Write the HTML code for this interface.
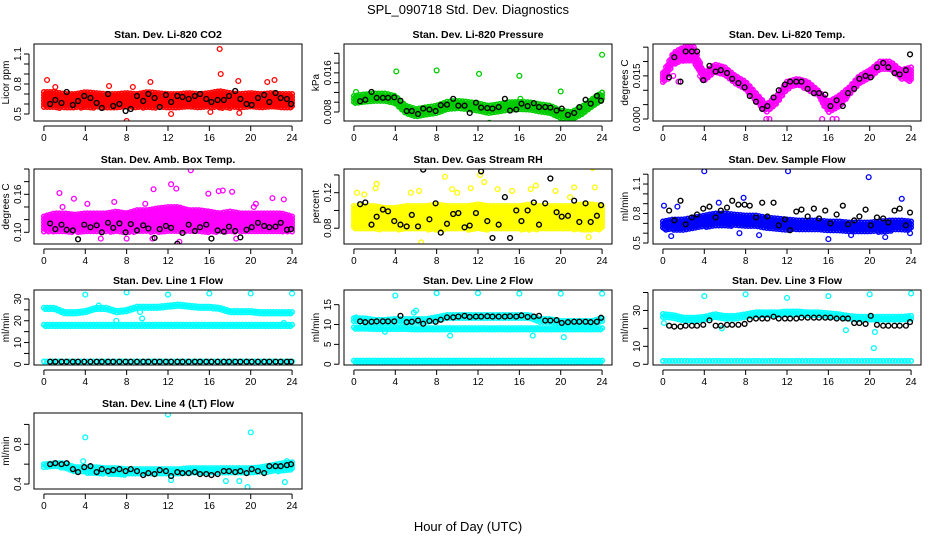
<!DOCTYPE html>
<html><head><meta charset="utf-8"><style>
body{margin:0;background:#fff;}
svg{display:block;font-family:"Liberation Sans",sans-serif;}
</style></head><body>
<svg id="c" width="936" height="540" viewBox="0 0 936 540">
<text x="468" y="14" text-anchor="middle" font-size="13">SPL_090718  Std. Dev. Diagnostics</text>
<text x="468" y="531" text-anchor="middle" font-size="13">Hour of Day (UTC)</text>
</svg>
<script>
// ---- data ----
const hours=[0,1,2,3,4,5,6,7,8,9,10,11,12,13,14,15,16,17,18,19,20,21,22,23,24];
const blackHours=[0.6,1.1,1.7,2.2,2.8,3.3,3.9,4.5,5.1,5.6,6.2,6.7,7.3,7.9,8.4,9.0,9.6,10.1,10.7,11.2,11.8,12.3,12.9,13.4,14.0,14.6,15.1,15.7,16.2,16.8,17.4,17.9,18.5,19.0,19.6,20.1,20.7,21.3,21.8,22.4,22.9,23.5,23.9];

const co2Lo=[0.56,0.56,0.56,0.56,0.56,0.56,0.56,0.56,0.56,0.56,0.56,0.56,0.56,0.56,0.56,0.56,0.56,0.56,0.56,0.56,0.56,0.56,0.56,0.56,0.56];
const co2Hi=[0.72,0.72,0.7,0.7,0.72,0.71,0.7,0.7,0.71,0.7,0.72,0.71,0.7,0.7,0.71,0.7,0.71,0.73,0.71,0.7,0.71,0.7,0.71,0.7,0.7];
const co2OutT=[0.3,1.1,17,17.1,10.3,18.8,22.3,21.6,8,12.3,16.1,18.9,6.3,8.6];
const co2OutV=[0.84,0.77,1.15,0.9,0.82,0.83,0.84,0.82,0.43,0.5,0.52,0.51,0.78,0.77];
const co2Blk=[0.6,0.64,0.61,0.72,0.59,0.63,0.68,0.66,0.61,0.56,0.7,0.58,0.6,0.53,0.55,0.68,0.63,0.7,0.66,0.57,0.69,0.62,0.68,0.67,0.65,0.68,0.7,0.65,0.62,0.64,0.64,0.68,0.73,0.65,0.6,0.59,0.66,0.69,0.62,0.71,0.66,0.65,0.6];

const presLo=[0.0097,0.01,0.0102,0.0102,0.0097,0.0077,0.007,0.0074,0.0077,0.0085,0.0087,0.0085,0.0082,0.0077,0.008,0.0084,0.0085,0.0084,0.008,0.0077,0.0067,0.0064,0.0074,0.009,0.0104];
const presHi=[0.0113,0.0116,0.0118,0.0118,0.0113,0.0093,0.0086,0.009,0.0093,0.0101,0.0103,0.0101,0.0098,0.0093,0.0096,0.01,0.0101,0.01,0.0096,0.0093,0.0083,0.008,0.009,0.0106,0.012];
const presOutT=[0.2,4.1,8,12.1,16,20,24,16.1,13.1,21.2];
const presOutV=[0.0121,0.0163,0.0165,0.0158,0.0154,0.0122,0.0197,0.0107,0.0058,0.006];
const presBlk=[0.0102,0.0105,0.0121,0.0109,0.0109,0.0109,0.011,0.0103,0.0082,0.0082,0.0076,0.0087,0.0085,0.0082,0.0094,0.0095,0.0107,0.0093,0.0093,0.0078,0.0099,0.0089,0.0088,0.0087,0.009,0.0107,0.0083,0.0085,0.0097,0.0092,0.0098,0.009,0.009,0.0089,0.0083,0.0087,0.0074,0.0078,0.009,0.0105,0.0097,0.0113,0.0103];

const tempLo=[0.012,0.019,0.020,0.020,0.013,0.016,0.015,0.012,0.010,0.006,0.002,0.005,0.010,0.012,0.010,0.008,0.002,0.004,0.008,0.012,0.014,0.017,0.017,0.014,0.013];
const tempHi=[0.016,0.023,0.025,0.025,0.016,0.019,0.018,0.015,0.013,0.009,0.005,0.008,0.013,0.014,0.013,0.010,0.006,0.008,0.011,0.015,0.017,0.020,0.020,0.017,0.018];
const tempOutT=[10,10.3,15.4,16.4,16.8,0.5,1.0,1.5,3.6,3.8];
const tempOutV=[0,0,0,0,0,0.014,0.015,0.013,0.015,0.014];
const tempBlk=[0.0145,0.0215,0.013,0.0235,0.0235,0.0235,0.0135,0.0185,0.0165,0.017,0.016,0.014,0.0125,0.011,0.008,0.006,0.0035,0.0045,0.0075,0.01,0.012,0.013,0.013,0.013,0.0105,0.009,0.009,0.0085,0.0045,0.0065,0.0045,0.009,0.0105,0.014,0.015,0.0145,0.018,0.0195,0.018,0.016,0.0155,0.017,0.0225];

const ambLo=[0.1,0.1,0.1,0.1,0.1,0.1,0.1,0.1,0.1,0.1,0.1,0.1,0.1,0.1,0.1,0.1,0.1,0.1,0.1,0.1,0.1,0.1,0.1,0.1,0.1];
const ambHi=[0.125,0.13,0.13,0.128,0.13,0.13,0.13,0.133,0.13,0.135,0.135,0.138,0.14,0.14,0.135,0.135,0.133,0.13,0.133,0.13,0.13,0.13,0.13,0.13,0.125];
const ambOutT=[1.5,2.9,4.2,10.6,12.3,12.8,14.2,15.9,16.9,17.3,18.2,22.1,23.2,13.1,5.5,18.6,8,10.5,20.5,6.8,1.8,9.8,20.3];
const ambOutV=[0.162,0.153,0.145,0.168,0.176,0.169,0.198,0.161,0.165,0.166,0.164,0.154,0.152,0.085,0.09,0.09,0.09,0.09,0.145,0.148,0.14,0.145,0.14];
const ambBlk=[0.114,0.105,0.112,0.104,0.103,0.089,0.112,0.108,0.111,0.1,0.115,0.107,0.114,0.1,0.113,0.103,0.111,0.106,0.091,0.105,0.11,0.107,0.082,0.099,0.112,0.102,0.108,0.112,0.09,0.103,0.101,0.109,0.102,0.092,0.104,0.108,0.115,0.11,0.108,0.109,0.115,0.104,0.105];

const rhLo=[0.078,0.078,0.078,0.078,0.078,0.078,0.078,0.078,0.078,0.078,0.078,0.078,0.078,0.078,0.078,0.078,0.078,0.078,0.078,0.078,0.078,0.078,0.078,0.078,0.078];
const rhHi=[0.105,0.105,0.105,0.103,0.103,0.105,0.105,0.105,0.107,0.105,0.105,0.105,0.107,0.105,0.105,0.105,0.105,0.107,0.105,0.105,0.105,0.105,0.107,0.107,0.105];
const rhOutT=[0.3,2.1,2.2,5.5,6.3,8.8,9.5,11.3,12.2,12.6,13.9,15.3,17.1,17.6,19.5,21.3,23.1,23.3,6.5,22.7,10,20.9,1.0];
const rhOutV=[0.12,0.125,0.13,0.12,0.122,0.138,0.124,0.125,0.14,0.132,0.124,0.122,0.124,0.128,0.122,0.126,0.148,0.126,0.064,0.07,0.12,0.115,0.118];
const rhBlk=[0.107,0.109,0.084,0.093,0.101,0.099,0.088,0.084,0.082,0.095,0.082,0.146,0.09,0.108,0.075,0.085,0.096,0.097,0.081,0.083,0.097,0.144,0.088,0.069,0.084,0.115,0.069,0.1,0.088,0.1,0.109,0.084,0.108,0.136,0.098,0.093,0.094,0.111,0.087,0.108,0.087,0.094,0.106];

const flowLo=[0.63,0.63,0.63,0.64,0.66,0.67,0.67,0.67,0.67,0.66,0.65,0.64,0.63,0.63,0.63,0.63,0.62,0.62,0.61,0.61,0.61,0.61,0.62,0.63,0.63];
const flowHi=[0.72,0.74,0.74,0.76,0.78,0.8,0.8,0.79,0.78,0.78,0.76,0.75,0.74,0.73,0.73,0.73,0.72,0.72,0.71,0.71,0.71,0.72,0.73,0.73,0.72];
const flowOutT=[4,12.1,19.9,0.1,1.4,7.8,23.1,5.4,16,0.8,7.4,23.9,18.2,21.5,9.3];
const flowOutV=[1.23,1.23,1.17,0.88,0.87,0.96,0.95,0.91,0.54,0.57,0.6,0.6,0.58,0.56,0.58];
const flowBlk=[0.83,0.73,0.93,0.69,0.76,0.79,0.85,0.87,0.76,0.83,0.86,0.93,0.89,0.89,0.88,0.76,0.91,0.77,0.91,0.68,0.74,0.63,0.82,0.84,0.77,0.85,0.75,0.83,0.7,0.79,0.88,0.69,0.73,0.77,0.84,0.68,0.76,0.75,0.71,0.83,0.85,0.68,0.81];

const l1UpLo=[25,25,23,23,23.5,25,25,23.5,24,25.5,25.5,25.5,26,26.5,26,25.5,25.5,25,23.5,23.5,23.5,23,23,23,23];
const l1UpHi=[26,26,24,24,24.5,26,26,24.5,25,26.5,26.5,26.5,27,27.5,27,26.5,26.5,26,24.5,24.5,24.5,24,24,24,24];
const l1MidLo=[17.2,17.2,17.2,17.2,17.2,17.2,17.2,17.2,17.2,17.2,17.2,17.2,17.2,17.2,17.2,17.2,17.2,17.2,17.2,17.2,17.2,17.2,17.2,17.2,17.2];
const l1MidHi=[18.2,18.2,18.2,18.2,18.2,18.2,18.2,18.2,18.2,18.2,18.2,18.2,18.2,18.2,18.2,18.2,18.2,18.2,18.2,18.2,18.2,18.2,18.2,18.2,18.2];
const l1BotLo=[0.8,0.8,0.8,0.8,0.8,0.8,0.8,0.8,0.8,0.8,0.8,0.8,0.8,0.8,0.8,0.8,0.8,0.8,0.8,0.8,0.8,0.8,0.8,0.8,0.8];
const l1BotHi=[1.3,1.3,1.3,1.3,1.3,1.3,1.3,1.3,1.3,1.3,1.3,1.3,1.3,1.3,1.3,1.3,1.3,1.3,1.3,1.3,1.3,1.3,1.3,1.3,1.3];
const l1OutT=[4,8,12,16,20,24,9.5,9.3,7,23.2,5.3];
const l1OutV=[32,33,32,32.5,32.5,32.5,21,24,20,19,27];
const l1Blk=[1.2,1.2,1.2,1.2,1.2,1.2,1.2,1.2,1.2,1.2,1.2,1.2,1.2,1.2,1.2,1.2,1.2,1.2,1.2,1.2,1.2,1.2,1.2,1.2,1.2,1.2,1.2,1.2,1.2,1.2,1.2,1.2,1.2,1.2,1.2,1.2,1.2,1.2,1.2,1.2,1.2,1.2,1.2];

const l2UpLo=[10.6,10.6,10.4,10.4,10.6,10.6,10.6,10.6,11.1,11.6,11.6,11.6,11.6,11.6,11.6,11.6,11.6,11.6,10.6,10.6,10.1,10.1,10.1,10.1,10.6];
const l2UpHi=[11.6,11.6,11.2,11.2,11.4,11.4,11.4,11.4,11.9,12.4,12.4,12.4,12.4,12.4,12.4,12.4,12.4,12.4,11.4,11.4,10.9,10.9,10.9,10.9,11.6];
const l2MidLo=[8.7,8.7,8.6,8.6,8.6,8.6,8.5,8.5,8.5,8.5,8.5,8.5,8.5,8.5,8.5,8.5,8.5,8.5,8.5,8.5,8.5,8.5,8.5,8.5,8.5];
const l2MidHi=[9.3,9.3,9.2,9.2,9.2,9.2,9.1,9.1,9.1,9.1,9.1,9.1,9.1,9.1,9.1,9.1,9.1,9.1,9.1,9.1,9.1,9.1,9.1,9.1,9.1];
const l2BotLo=[0.5,0.5,0.5,0.5,0.5,0.5,0.5,0.5,0.5,0.5,0.5,0.5,0.5,0.5,0.5,0.5,0.5,0.5,0.5,0.5,0.5,0.5,0.5,0.5,0.5];
const l2BotHi=[0.9,0.9,0.9,0.9,0.9,0.9,0.9,0.9,0.9,0.9,0.9,0.9,0.9,0.9,0.9,0.9,0.9,0.9,0.9,0.9,0.9,0.9,0.9,0.9,0.9];
const l2OutT=[4,8,12,16,20,24,9.3,17.3,20.3,5.8,6,3,0.2];
const l2OutV=[17.3,17.9,17.9,17.8,17.8,17.8,7.2,7.2,6.8,13,13.5,8.2,11.8];
const l2Blk=[10.8,10.6,10.7,10.8,10.8,10.8,10.8,12.2,10.6,10.7,11,10.2,10.9,10.7,11.2,11.8,11.8,12,12.2,11.9,12,12,12.1,12,12,12,12.1,12,12.3,11.9,12,12.2,11,11,11.1,10.4,10.6,10.7,10.7,10.7,10.6,10.7,11.7];

const l3UpLo=[26,25.5,24,24,24.5,26,25,25,26,27,27,27,27.5,27.5,27,27,26.5,26,25,24.5,24.5,24.5,24.5,24.5,25];
const l3UpHi=[28,27.5,26,26,26.5,28,27,27,28,29,29,29,29.5,29.5,29,29,28.5,28,27,26.5,26.5,26.5,26.5,26.5,27];
const l3BotLo=[1.1,1.1,1.1,1.1,1.1,1.1,1.1,1.1,1.1,1.1,1.1,1.1,1.1,1.1,1.1,1.1,1.1,1.1,1.1,1.1,1.1,1.1,1.1,1.1,1.1];
const l3BotHi=[1.9,1.9,1.9,1.9,1.9,1.9,1.9,1.9,1.9,1.9,1.9,1.9,1.9,1.9,1.9,1.9,1.9,1.9,1.9,1.9,1.9,1.9,1.9,1.9,1.9];
const l3OutT=[4,8,12,16,20,24,20.4,20.5,17.7,5.7,0.1];
const l3OutV=[38,39,37,38,39,39.5,9,18,19,20,23];
const l3Blk=[21.5,21,21,21.5,21.5,21.5,22,24.5,21.5,21.5,22,22,22,22.5,25,25.5,25.5,25.5,26.5,25.5,25.5,25.5,25.5,26,26,26,26,26,26,25.5,25.5,25.5,23,23,22.5,27,22,21.5,21.5,21.5,21.5,21.5,23.5];

const l4Lo=[0.56,0.57,0.56,0.51,0.51,0.5,0.5,0.49,0.49,0.49,0.49,0.49,0.49,0.49,0.5,0.5,0.5,0.5,0.5,0.5,0.5,0.51,0.52,0.53,0.54];
const l4Hi=[0.6,0.61,0.61,0.57,0.57,0.57,0.56,0.56,0.55,0.55,0.55,0.55,0.55,0.55,0.56,0.56,0.56,0.56,0.56,0.56,0.56,0.57,0.59,0.61,0.62];
const l4OutT=[4,12,20,19.7,23.3,12.3,17.6,18.9,3.8,23.5];
const l4OutV=[0.87,1.1,0.92,0.37,0.42,0.44,0.43,0.43,0.63,0.63];
const l4Blk=[0.6,0.61,0.6,0.61,0.55,0.52,0.57,0.58,0.52,0.55,0.53,0.54,0.55,0.53,0.55,0.53,0.49,0.51,0.5,0.54,0.53,0.48,0.52,0.51,0.51,0.52,0.5,0.5,0.49,0.5,0.53,0.53,0.52,0.53,0.51,0.55,0.53,0.51,0.58,0.58,0.58,0.59,0.6];

const xTicks=[0,4,8,12,16,20,24];

// ---- layout ----
const colX=[34,344,653], colW=268;
const rowY=[[44,121],[169,244],[290,365],[413,489]];
const panels=[
 {c:0,r:0,name:'co2',title:'Stan. Dev. Li-820 CO2',ylab:'Licor ppm',ymin:0.43,ymax:1.2,ticks:[0.5,0.6,0.7,0.8,0.9,1.0,1.1],labels:['0.5','0.8','1.1'],color:'#ff0000',bands:[[co2Lo,co2Hi]],oT:co2OutT,oV:co2OutV,blk:co2Blk},
 {c:1,r:0,name:'pressure',title:'Stan. Dev. Li-820 Pressure',ylab:'kPa',ymin:0.00616,ymax:0.0219,ticks:[0.008,0.010,0.012,0.014,0.016,0.018,0.020],labels:['0.008','0.016'],color:'#00cc00',bands:[[presLo,presHi]],oT:presOutT,oV:presOutV,blk:presBlk},
 {c:2,r:0,name:'licor-temp',title:'Stan. Dev. Li-820 Temp.',ylab:'degrees C',ymin:-0.0007,ymax:0.0261,ticks:[0,0.005,0.010,0.015,0.020,0.025],labels:['0.000','0.015'],color:'#ff00ff',bands:[[tempLo,tempHi]],oT:tempOutT,oV:tempOutV,blk:tempBlk},
 {c:0,r:1,name:'amb-box-temp',title:'Stan. Dev. Amb. Box Temp.',ylab:'degrees C',ymin:0.0815,ymax:0.20,ticks:[0.10,0.12,0.14,0.16,0.18,0.20],labels:['0.10','0.16'],color:'#ff00ff',bands:[[ambLo,ambHi]],oT:ambOutT,oV:ambOutV,blk:ambBlk},
 {c:1,r:1,name:'gas-rh',title:'Stan. Dev. Gas Stream RH',ylab:'percent',ymin:0.0622,ymax:0.1467,ticks:[0.08,0.10,0.12,0.14],labels:['0.08','0.12'],color:'#ffff00',bands:[[rhLo,rhHi]],oT:rhOutT,oV:rhOutV,blk:rhBlk},
 {c:2,r:1,name:'sample-flow',title:'Stan. Dev. Sample Flow',ylab:'ml/min',ymin:0.49,ymax:1.253,ticks:[0.5,0.6,0.7,0.8,0.9,1.0,1.1,1.2],labels:['0.5','0.8','1.1'],color:'#0000ff',bands:[[flowLo,flowHi]],oT:flowOutT,oV:flowOutV,blk:flowBlk},
 {c:0,r:2,name:'line1-flow',title:'Stan. Dev. Line 1 Flow',ylab:'ml/min',ymin:-0.3,ymax:34.1,ticks:[0,5,10,15,20,25,30],labels:['0','10','20','30'],color:'#00ffff',bands:[[l1UpLo,l1UpHi],[l1MidLo,l1MidHi],[l1BotLo,l1BotHi]],oT:l1OutT,oV:l1OutV,blk:l1Blk},
 {c:1,r:2,name:'line2-flow',title:'Stan. Dev. Line 2 Flow',ylab:'ml/min',ymin:-0.2,ymax:18.7,ticks:[0,5,10,15],labels:['0','5','10','15'],color:'#00ffff',bands:[[l2UpLo,l2UpHi],[l2MidLo,l2MidHi],[l2BotLo,l2BotHi]],oT:l2OutT,oV:l2OutV,blk:l2Blk},
 {c:2,r:2,name:'line3-flow',title:'Stan. Dev. Line 3 Flow',ylab:'ml/min',ymin:-0.4,ymax:41.4,ticks:[0,10,20,30,40],labels:['0','10','30'],color:'#00ffff',bands:[[l3UpLo,l3UpHi],[l3BotLo,l3BotHi]],oT:l3OutT,oV:l3OutV,blk:l3Blk},
 {c:0,r:3,name:'line4-flow',title:'Stan. Dev. Line 4 (LT) Flow',ylab:'ml/min',ymin:0.35,ymax:1.115,ticks:[0.4,0.6,0.8,1.0],labels:['0.4','0.8'],color:'#00ffff',bands:[[l4Lo,l4Hi]],oT:l4OutT,oV:l4OutV,blk:l4Blk}
];

const NS='http://www.w3.org/2000/svg';
const svg=document.getElementById('c');
function mk(tag,attrs,parent){const e=document.createElementNS(NS,tag);for(const k in attrs)e.setAttribute(k,attrs[k]);parent.appendChild(e);return e;}
function interp(arr,t){const i=Math.min(23,Math.floor(t));const f=t-i;return arr[i]*(1-f)+arr[i+1]*f;}

panels.forEach(p=>{
  const x0=colX[p.c],x1=x0+colW,y0=rowY[p.r][0],y1=rowY[p.r][1];
  const xs=t=>x0+(t+0.96)/25.92*colW;
  const ys=v=>y1-(v-p.ymin)/(p.ymax-p.ymin)*(y1-y0);
  const g=mk('g',{},svg);
  
  
  const tt=mk('text',{x:(x0+x1)/2,y:y0-6,'text-anchor':'middle','font-size':'10.5','font-weight':'bold'},g);
  tt.textContent=p.title;
  
  
  const clip='clip-'+p.name;
  const cp=mk('clipPath',{id:clip},g);mk('rect',{x:x0,y:y0,width:colW,height:y1-y0},cp);
  const pts=mk('g',{'clip-path':'url(#'+clip+')',fill:'none','stroke-width':'1.3'},g);
  
  
  p.bands.forEach(b=>{
    const bg=mk('g',{stroke:p.color,'stroke-width':'1.5'},pts);
    
    
    let k=0;
    for(let t=0;t<=24.001;t+=0.15){
      const lo=ys(interp(b[0],t)),hi=ys(interp(b[1],t));
      const off=(k%2)*1.5; k++;
      for(let y=hi+off;y<=lo+0.01;y+=3){
        mk('circle',{cx:xs(t).toFixed(1),cy:y.toFixed(1),r:2.2},bg);
      }
    }
  });
  p.oT.forEach((t,i)=>{
    const c=mk('circle',{cx:xs(t),cy:ys(p.oV[i]),r:2.4,stroke:p.color},pts);
    
    
  });
  const n=Math.min(blackHours.length,p.blk.length);
  for(let i=0;i<n;i++){
    const c=mk('circle',{cx:xs(blackHours[i]),cy:ys(p.blk[i]),r:2.4,stroke:'#000','stroke-width':'1.4'},pts);
    
    
  }
  const bx=mk('rect',{x:x0,y:y0,width:colW,height:y1-y0,fill:'none',stroke:'#000','stroke-width':'1'},g);
  
  
  const xa=mk('g',{},g);
  
  
  mk('line',{x1:xs(0),x2:xs(24),y1:y1+5,y2:y1+5,stroke:'#000'},xa);
  xTicks.forEach(t=>{
    mk('line',{x1:xs(t),x2:xs(t),y1:y1+5,y2:y1+10,stroke:'#000'},xa);
    const l=mk('text',{x:xs(t),y:y1+20,'text-anchor':'middle','font-size':'10'},xa);
    l.textContent=t;
  });
  const ya=mk('g',{},g);
  
  
  const ax=x0-1;
  mk('line',{x1:ax-4,x2:ax-4,y1:ys(p.ticks[0]),y2:ys(p.ticks[p.ticks.length-1]),stroke:'#000'},ya);
  p.ticks.forEach(v=>{mk('line',{x1:ax-9,x2:ax-4,y1:ys(v),y2:ys(v),stroke:'#000'},ya);});
  p.labels.forEach(s=>{
    const v=parseFloat(s);const yy=ys(v);
    const l=mk('text',{x:ax-12,y:yy,'text-anchor':'middle','font-size':'10',transform:`rotate(-90 ${ax-12} ${yy})`},ya);
    l.textContent=s;
  });
  const yl=mk('text',{x:x0-25,y:(y0+y1)/2,'text-anchor':'middle','font-size':'10',transform:`rotate(-90 ${x0-25} ${(y0+y1)/2})`},ya);
  yl.textContent=p.ylab;
  
  
});
</script>
</body></html>
